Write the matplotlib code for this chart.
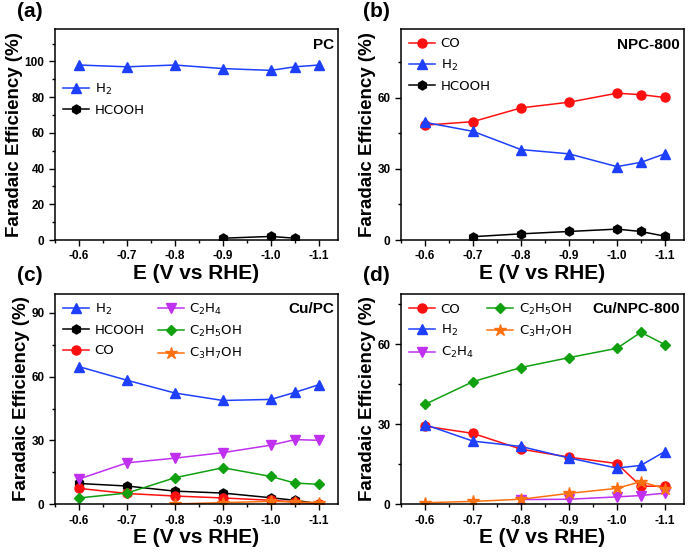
import matplotlib
matplotlib.use('Agg')
import matplotlib.pyplot as plt
from matplotlib.ticker import MultipleLocator

plt.rcParams['font.family'] = ['Liberation Sans', 'DejaVu Sans']

# Applied potentials (V vs RHE)
potential = [-0.6, -0.7, -0.8, -0.9, -1.0, -1.05, -1.1]

# (a) PC
pc_h2 = [98, 97, 98, 96, 95, 97, 98]
pc_hcooh_e = [-0.9, -1.0, -1.05]
pc_hcooh = [1.0, 2.0, 1.0]

# (b) NPC-800
npc_co = [48.5, 50, 55.8, 58.2, 62, 61.4, 60.2]
npc_h2 = [49.7, 45.9, 38.2, 36.4, 31, 32.8, 36.4]
npc_hcooh_e = [-0.7, -0.8, -0.9, -1.0, -1.05, -1.1]
npc_hcooh = [1.4, 2.6, 3.6, 4.6, 3.6, 1.6]

# (c) Cu/PC
cupc_h2 = [64.7, 58.3, 52.3, 48.8, 49.3, 52.6, 56.2]
cupc_hcooh = [9.8, 8.6, 6.2, 5.3, 3.1, 1.9, 0.3]
cupc_co = [7.5, 5.1, 3.9, 3.0, 1.9, 1.1, 0.3]
cupc_c2h4 = [11.9, 19.5, 21.7, 24.3, 27.8, 30.4, 30.1]
cupc_c2h5oh = [3.0, 5.3, 12.5, 17.2, 13.1, 10.0, 9.4]
cupc_c3h7oh_e = [-0.8, -0.9, -1.0, -1.05, -1.1]
cupc_c3h7oh = [0.2, 0.8, 1.4, 1.1, 0.8]

# (d) Cu/NPC-800
cunpc_co = [29.3, 26.6, 20.7, 17.7, 15.3, 6.8, 6.8]
cunpc_h2 = [29.9, 23.7, 21.7, 17.4, 13.6, 14.6, 19.8]
cunpc_c2h4_e = [-0.8, -0.9, -1.0, -1.05, -1.1]
cunpc_c2h4 = [1.8, 1.9, 2.8, 3.3, 4.2]
cunpc_c2h5oh = [37.5, 46.0, 51.3, 55.0, 58.5, 64.5, 59.9]
cunpc_c3h7oh = [0.6, 1.1, 1.9, 4.1, 6.0, 8.5, 5.9]

BLUE = '#1f3fff'
RED = '#ff1010'
BLACK = '#000000'
MAGENTA = '#c030f0'
GREEN = '#10a010'
ORANGE = '#ff7010'

styles = {
    'H$_2$': (BLUE, '^'),
    'HCOOH': (BLACK, 'h'),
    'CO': (RED, 'o'),
    'C$_2$H$_4$': (MAGENTA, 'v'),
    'C$_2$H$_5$OH': (GREEN, 'D'),
    'C$_3$H$_7$OH': (ORANGE, '*'),
}

fig = plt.figure(figsize=(6.92, 5.53), dpi=100)
axw, axh = 0.409, 0.381
ax_a = fig.add_axes([0.0795, 0.566, axw, axh])
ax_b = fig.add_axes([0.5795, 0.566, axw, axh])
ax_c = fig.add_axes([0.0795, 0.088, axw, axh])
ax_d = fig.add_axes([0.5795, 0.088, axw, axh])


def draw(ax, x, y, name):
    color, marker = styles[name]
    ms = 9 if marker == '*' else (5.5 if marker == 'D' else 6.5)
    ax.plot(x, y, color=color, marker=marker, markersize=ms, lw=1.1,
            label=name)


def setup(ax, ymax, major, letter, tag):
    ax.set_xlim(-0.55, -1.14)
    ax.set_ylim(0, ymax)
    ax.xaxis.set_major_locator(MultipleLocator(0.1))
    ax.xaxis.set_minor_locator(MultipleLocator(0.05))
    ax.yaxis.set_major_locator(MultipleLocator(major))
    ax.yaxis.set_minor_locator(MultipleLocator(major / 2))
    ax.xaxis.set_major_formatter(plt.FuncFormatter(lambda v, p: f'{v:.1f}'))
    ax.tick_params(which='major', direction='out', length=4, width=1,
                   labelsize=8.5)
    ax.tick_params(which='minor', direction='out', length=2.5, width=1)
    for lab in ax.get_xticklabels() + ax.get_yticklabels():
        lab.set_fontweight('bold')
    for s in ax.spines.values():
        s.set_linewidth(1.1)
    ax.set_xlabel('E (V vs RHE)', fontsize=15, fontweight='bold', labelpad=1)
    ax.set_ylabel('Faradaic Efficiency (%)', fontsize=13.5, fontweight='bold',
                  labelpad=1)
    ax.text(0.985, 0.96, tag, transform=ax.transAxes, ha='right', va='top',
            fontsize=11, fontweight='bold')
    ax.text(-0.135, 1.085, letter, transform=ax.transAxes, ha='left',
            va='center', fontsize=15, fontweight='bold')


def legend(ax, ncol, anchor):
    leg = ax.legend(loc='upper left', bbox_to_anchor=anchor, ncol=ncol,
                    frameon=False, handlelength=2.0,
                    handletextpad=0.4, columnspacing=1.0, labelspacing=0.55,
                    borderaxespad=0.2, prop={'family': 'DejaVu Sans',
                                              'size': 9.5})
    return leg


# (a)
draw(ax_a, potential, pc_h2, 'H$_2$')
draw(ax_a, pc_hcooh_e, pc_hcooh, 'HCOOH')
setup(ax_a, 118, 20, '(a)', 'PC')
legend(ax_a, 1, (0.0, 0.79))

# (b)
draw(ax_b, potential, npc_co, 'CO')
draw(ax_b, potential, npc_h2, 'H$_2$')
draw(ax_b, npc_hcooh_e, npc_hcooh, 'HCOOH')
setup(ax_b, 89, 30, '(b)', 'NPC-800')
legend(ax_b, 1, (0.0, 1.0))

# (c)
draw(ax_c, potential, cupc_h2, 'H$_2$')
draw(ax_c, potential, cupc_hcooh, 'HCOOH')
draw(ax_c, potential, cupc_co, 'CO')
draw(ax_c, potential, cupc_c2h4, 'C$_2$H$_4$')
draw(ax_c, potential, cupc_c2h5oh, 'C$_2$H$_5$OH')
draw(ax_c, cupc_c3h7oh_e, cupc_c3h7oh, 'C$_3$H$_7$OH')
setup(ax_c, 99, 30, '(c)', 'Cu/PC')
legend(ax_c, 2, (0.0, 1.0))

# (d)
draw(ax_d, potential, cunpc_co, 'CO')
draw(ax_d, potential, cunpc_h2, 'H$_2$')
draw(ax_d, cunpc_c2h4_e, cunpc_c2h4, 'C$_2$H$_4$')
draw(ax_d, potential, cunpc_c2h5oh, 'C$_2$H$_5$OH')
draw(ax_d, potential, cunpc_c3h7oh, 'C$_3$H$_7$OH')
setup(ax_d, 79, 30, '(d)', 'Cu/NPC-800')
legend(ax_d, 2, (0.0, 1.0))

fig.savefig('out.png', dpi=100)
